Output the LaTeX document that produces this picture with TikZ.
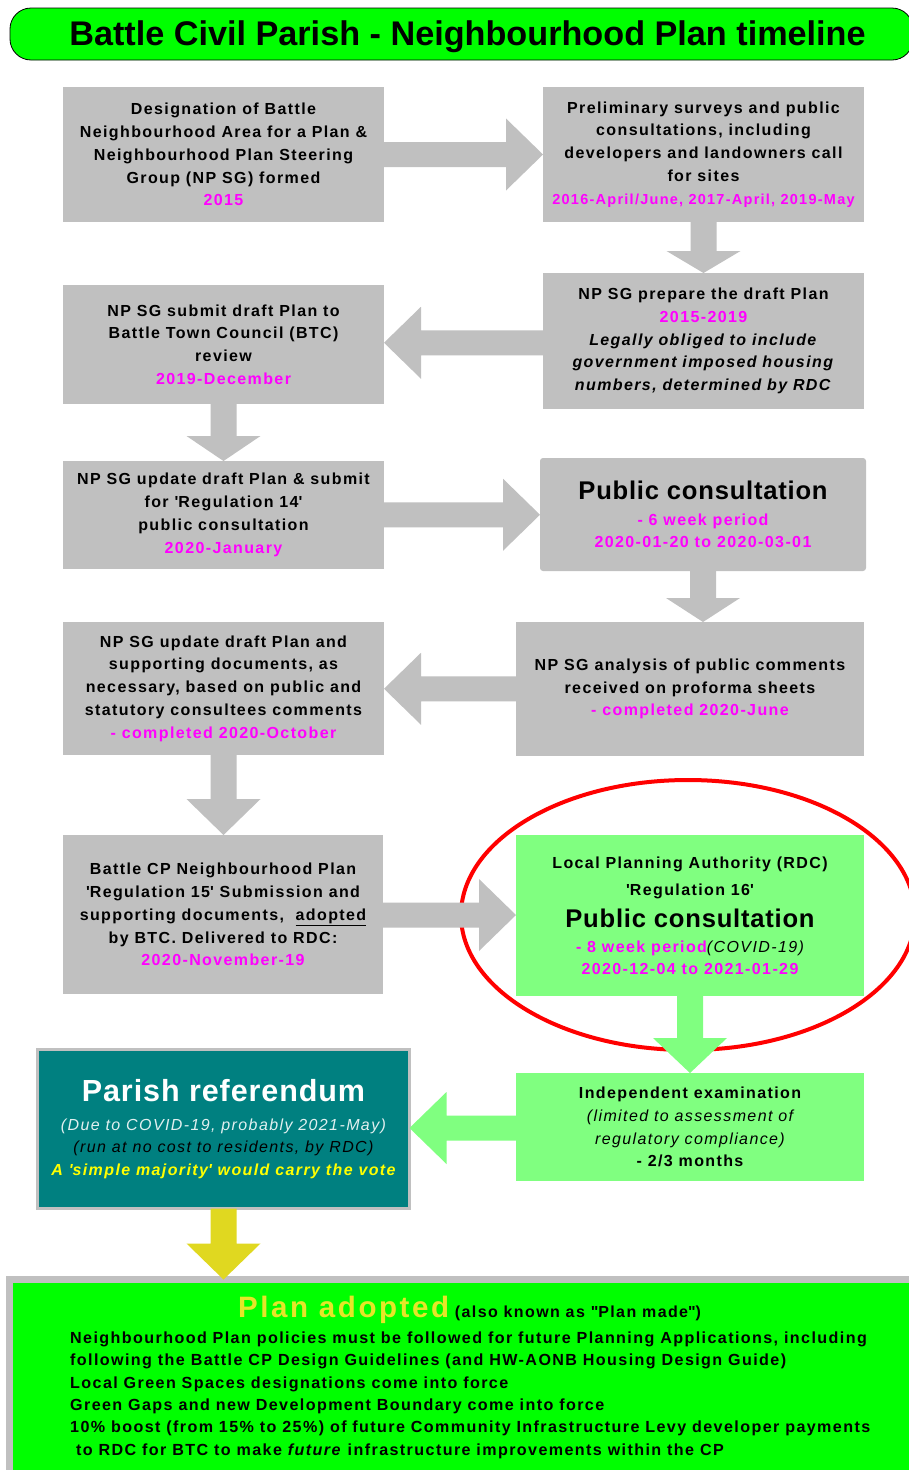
\documentclass[tikz,border=0pt]{standalone}
\usepackage{fontspec}
\setmainfont{Liberation Sans}[LetterSpace=8.7]
\newfontfamily\plainfam{Liberation Sans}
\newfontfamily\bigfam{Liberation Sans}[LetterSpace=3]
\usetikzlibrary{calc}
\definecolor{boxgray}{HTML}{C0C0C0}
\definecolor{lgreen}{HTML}{80FF80}
\definecolor{bgreen}{HTML}{00FF00}
\definecolor{tealbox}{HTML}{008080}
\definecolor{arrowyellow}{RGB}{224,216,32}
\definecolor{planyellow}{RGB}{230,230,40}
\definecolor{duecol}{RGB}{225,240,240}
\definecolor{mgcol}{RGB}{255,0,255}
\definecolor{ylcol}{RGB}{255,255,0}
\definecolor{ellred}{RGB}{255,0,0}
\newcommand\mgt[1]{\textcolor{mgcol}{#1}}
\newcommand\sq{\textquotesingle}
\newcommand\bigline[1]{{\bigfam\fontsize{25.6}{28}\selectfont #1}}
% block arrows between named nodes
\newcommand\arrR[3]{\fill[#3] let \p1=(#1.east), \p2=(#2.west), \n1={(\y1+\y2)/2} in
  (\x1,{\n1+12.5pt}) -- ({\x2-37pt},{\n1+12.5pt}) -- ({\x2-37pt},{\n1+36pt}) -- (\x2,{\n1+0pt})
  -- ({\x2-37pt},{\n1-36pt}) -- ({\x2-37pt},{\n1-12.5pt}) -- (\x1,{\n1-12.5pt}) -- cycle;}
\newcommand\arrL[3]{\fill[#3] let \p1=(#1.west), \p2=(#2.east), \n1={(\y1+\y2)/2} in
  (\x1,{\n1+12.5pt}) -- ({\x2+37pt},{\n1+12.5pt}) -- ({\x2+37pt},{\n1+36pt}) -- (\x2,{\n1+0pt})
  -- ({\x2+37pt},{\n1-36pt}) -- ({\x2+37pt},{\n1-12.5pt}) -- (\x1,{\n1-12.5pt}) -- cycle;}
\newcommand\arrD[4]{\fill[#3] let \p1=(#1.south), \p2=(#2.north) in
  ({\x1-13pt},\y1) -- ({\x1-13pt},{\y2+#4pt}) -- ({\x1-37pt},{\y2+#4pt}) -- (\x1,\y2)
  -- ({\x1+37pt},{\y2+#4pt}) -- ({\x1+13pt},{\y2+#4pt}) -- ({\x1+13pt},\y1) -- cycle;}
\tikzset{
  txt/.style={inner sep=0pt, outer sep=0pt, align=center,
    font=\fontsize{16}{22.8}\selectfont\bfseries},
  gbox/.style={txt, rectangle, fill=boxgray},
  lbox/.style={txt, rectangle, fill=lgreen},
}
\begin{document}
\lineskiplimit=-50pt\relax
\begin{tikzpicture}[x=1pt,y=-1pt]
\useasboundingbox (0,0) rectangle (909,1470);
\fill[white] (0,0) rectangle (909,1470);

% highlight ellipse
\draw[ellred, line width=4pt] (688,915) ellipse [x radius=227, y radius=135];

% title
\node[draw=black, line width=0.8pt, fill=bgreen, rounded corners=21pt, minimum width=903pt,
  minimum height=52pt, inner sep=0pt] (titlebox) at (461.5,34) {};
\node[anchor=base, inner sep=0pt, font=\plainfam\fontsize{34.2}{36}\selectfont\bfseries]
  (titletext) at (467.5,45.5) {Battle Civil Parish - Neighbourhood Plan timeline};

% boxes
\node[gbox, minimum width=321pt, minimum height=135pt] (b1) at (223.5,154.5)
  {Designation of Battle\\Neighbourhood Area for a Plan \&\\Neighbourhood Plan Steering\\Group (NP SG) formed\\\mgt{2015}};
\node[gbox, minimum width=321pt, minimum height=135pt] (b2) at (703.5,154.5)
  {Preliminary surveys and public\\consultations, including\\developers and landowners call\\for sites\\{\fontsize{14.5}{22.8}\selectfont\mgt{2016-April/June, 2017-April, 2019-May}}};
\node[gbox, minimum width=321pt, minimum height=136pt] (b3) at (703.5,341)
  {NP SG prepare the draft Plan\\\mgt{2015-2019}\\\textit{Legally obliged to include}\\\textit{government imposed housing}\\\textit{numbers, determined by RDC}};
\node[gbox, minimum width=321pt, minimum height=119pt] (b4) at (223.5,344.5)
  {NP SG submit draft Plan to\\Battle Town Council (BTC)\\review\\\mgt{2019-December}};
\node[gbox, minimum width=321pt, minimum height=108pt] (b5) at (223.5,515)
  {NP SG update draft Plan \& submit\\for \sq Regulation 14\sq\\public consultation\\\mgt{2020-January}};
\node[gbox, rounded corners=3pt, minimum width=326pt, minimum height=113pt] (b6) at (703,514.5)
  {\bigline{Public consultation}\\[2.8pt]\mgt{- 6 week period}\\\mgt{2020-01-20 to 2020-03-01}};
\node[gbox, minimum width=348pt, minimum height=134pt] (b7) at (690,689)
  {NP SG analysis of public comments\\received on proforma sheets\\\mgt{- completed 2020-June}};
\node[gbox, minimum width=321pt, minimum height=133pt] (b8) at (223.5,688.5)
  {NP SG update draft Plan and\\supporting documents, as\\necessary, based on public and\\statutory consultees comments\\\mgt{- completed 2020-October}};
\node[gbox, minimum width=320pt, minimum height=159pt] (b9) at (223,914.5)
  {Battle CP Neighbourhood Plan\\\sq Regulation 15\sq{} Submission and\\supporting documents, \ \underline{adopted}\\by BTC. Delivered to RDC:\\\mgt{2020-November-19}};
\node[lbox, minimum width=348pt, minimum height=161pt] (b10) at (690,915.5)
  {Local Planning Authority (RDC)\\[4pt]\sq Regulation 16\sq\\[9.7pt]\bigline{Public consultation}\\[1.7pt]\mgt{- 8 week period}{\mdseries\itshape(COVID-19)}\\[-0.8pt]\mgt{2020-12-04 to 2021-01-29}};
\node[lbox, minimum width=348pt, minimum height=108pt] (b11) at (690,1127)
  {Independent examination\\{\mdseries\itshape (limited to assessment of}\\{\mdseries\itshape regulatory compliance)}\\- 2/3 months};
\node[txt, fill=tealbox, draw=boxgray, line width=3pt, minimum width=372pt, minimum height=159pt] (b12) at (223.5,1129)
  {\textcolor{white}{\bigfam\fontsize{30.5}{32}\selectfont Parish referendum}\\[5.5pt]{\mdseries\itshape\color{duecol}(Due to COVID-19, probably 2021-May)}\\{\mdseries\itshape (run at no cost to residents, by RDC)}\\[-0.5pt]{\itshape\color{ylcol}A \sq simple majority\sq{} would carry the vote}};
\node[draw=boxgray, line width=7pt, fill=bgreen, minimum width=930pt, minimum height=220pt,
  inner sep=0pt, outer sep=0pt, anchor=north west] (b13) at (9.5,1279.5) {};
\node[anchor=base west, inner sep=0pt, font=\fontsize{16}{20}\selectfont\bfseries] (adopthead) at (238,1317)
  {{\fontsize{29.5}{32}\selectfont\color{planyellow}Plan adopted} (also known as \textquotedbl Plan made\textquotedbl)};
\node[anchor=north west, inner sep=0pt, align=left,
  font=\fontsize{16.1}{22.4}\selectfont\bfseries] (adoptbody) at (70,1331.5)
  {Neighbourhood Plan policies must be followed for future Planning Applications, including\\
   following the Battle CP Design Guidelines (and HW-AONB Housing Design Guide)\\
   Local Green Spaces designations come into force\\
   Green Gaps and new Development Boundary come into force\\
   10\% boost (from 15\% to 25\%) of future Community Infrastructure Levy developer payments\\
   \hspace*{6pt}to RDC for BTC to make \textit{future} infrastructure improvements within the CP};

% connectors
\arrR{b1}{b2}{boxgray}
\arrD{b2}{b3}{boxgray}{22}
\arrL{b3}{b4}{boxgray}
\arrD{b4}{b5}{boxgray}{25}
\arrR{b5}{b6}{boxgray}
\arrD{b6}{b7}{boxgray}{24}
\arrL{b7}{b8}{boxgray}
\arrD{b8}{b9}{boxgray}{36}
\arrR{b9}{b10}{boxgray}
\arrD{b10}{b11}{lgreen}{35}
\arrL{b11}{b12}{lgreen}
\arrD{b12}{b13}{arrowyellow}{36}
\end{tikzpicture}
\end{document}
